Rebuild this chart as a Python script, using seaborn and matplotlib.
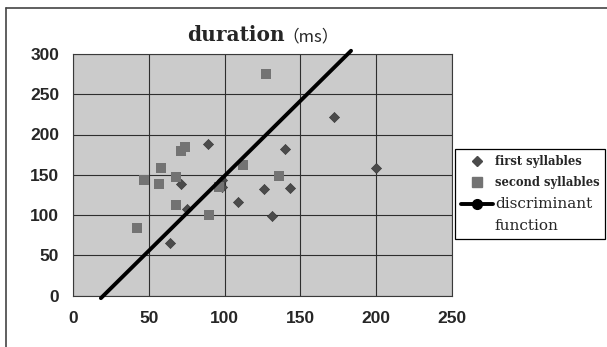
import pandas as pd
import numpy as np
import matplotlib.pyplot as plt
import seaborn as sns
from matplotlib.lines import Line2D

# dados (ms)
first_x = [89, 71, 75, 64, 98, 98, 109, 126, 131, 140, 143, 172, 200]
first_y = [188, 138, 107, 65, 144, 135, 116, 132, 99, 182, 133, 222, 158]
second_x = [42, 47, 57, 58, 68, 68, 71, 74, 90, 96, 112, 127, 136]
second_y = [84, 143, 138, 159, 147, 113, 179, 185, 100, 135, 162, 275, 149]

# função discriminante (extremos da reta)
line_x = [18.4, 183.4]
line_y = [-3.3, 304.0]

x_ticks = [0, 50, 100, 150, 200, 250]
y_ticks = [0, 50, 100, 150, 200, 250, 300]
labels = ['first syllables', 'second syllables', 'discriminant', 'function']

df_first = pd.DataFrame({'x': first_x, 'y': first_y})
df_second = pd.DataFrame({'x': second_x, 'y': second_y})

sns.set_style('white')
plt.rcParams['font.family'] = ['Liberation Sans', 'DejaVu Sans']

fig = plt.figure(figsize=(6.07, 3.47), dpi=100)
W, H = 607, 347
ax = fig.add_axes([73 / W, 1 - 295.5 / H, (452 - 73) / W, (295.5 - 54) / H])
ax.set_facecolor('#cbcbcb')

c_first = '#4b4b4b'
c_second = '#737373'

sns.scatterplot(data=df_first, x='x', y='y', marker='D', color=c_first,
                s=27, linewidth=0.4, edgecolor='#333333', ax=ax, zorder=3)
sns.scatterplot(data=df_second, x='x', y='y', marker='s', color=c_second,
                s=58, linewidth=0, ax=ax, zorder=3)
sns.lineplot(x=line_x, y=line_y, color='black', lw=2.8, ax=ax, zorder=4)
for ln in ax.get_lines():
    ln.set_clip_on(False)

ax.set_xlim(0, 250)
ax.set_ylim(0, 300)
ax.set_xticks(x_ticks)
ax.set_yticks(y_ticks)
ax.grid(True, color='#2e2e2e', lw=0.8)
ax.set_axisbelow(True)
for sp in ax.spines.values():
    sp.set_color('#3a3a3a')
    sp.set_linewidth(0.8)
ax.tick_params(axis='both', length=0, labelsize=12.5)
ax.tick_params(axis='x', pad=11)
ax.tick_params(axis='y', pad=10)
for lbl in ax.get_xticklabels() + ax.get_yticklabels():
    lbl.set_fontweight('bold')
ax.set_xlabel('')
ax.set_ylabel('')

# título
fig.text(285 / W, 1 - 41 / H, 'duration', ha='right', va='baseline',
         family='DejaVu Serif', weight='bold', size=14.5)
fig.text(282 / W, 1 - 41 / H, '（ms）', ha='left', va='baseline',
         family=['Noto Sans CJK JP', 'DejaVu Sans'], size=12)

# legenda
handles = [
    Line2D([], [], ls='none', marker='D', color=c_first, ms=5.5),
    Line2D([], [], ls='none', marker='s', color=c_second, ms=6.5),
    Line2D([], [], color='black', lw=2.8, marker='o', ms=7),
    Line2D([], [], ls='none'),
]
leg = fig.legend(handles, labels, loc='upper left',
                 bbox_to_anchor=(455 / W, 1 - 149 / H), borderaxespad=0,
                 frameon=True, fancybox=False, edgecolor='black', framealpha=1,
                 prop={'family': 'DejaVu Serif', 'size': 8.3},
                 handlelength=2.8, handletextpad=0.15, labelspacing=0.7,
                 borderpad=0.5)
leg.get_frame().set_linewidth(0.9)
txts = leg.get_texts()
txts[0].set_fontweight('bold')
txts[1].set_fontweight('bold')
txts[2].set_fontsize(11)
txts[3].set_fontsize(11)

# moldura (só topo e esquerda visíveis)
fig.add_artist(Line2D([6 / W, 6 / W], [0, 1 - 8 / H], transform=fig.transFigure,
                      color='#444444', lw=1.2))
fig.add_artist(Line2D([6 / W, 1], [1 - 8 / H, 1 - 8 / H], transform=fig.transFigure,
                      color='#444444', lw=1.2))

fig.savefig('out.png', dpi=100)
